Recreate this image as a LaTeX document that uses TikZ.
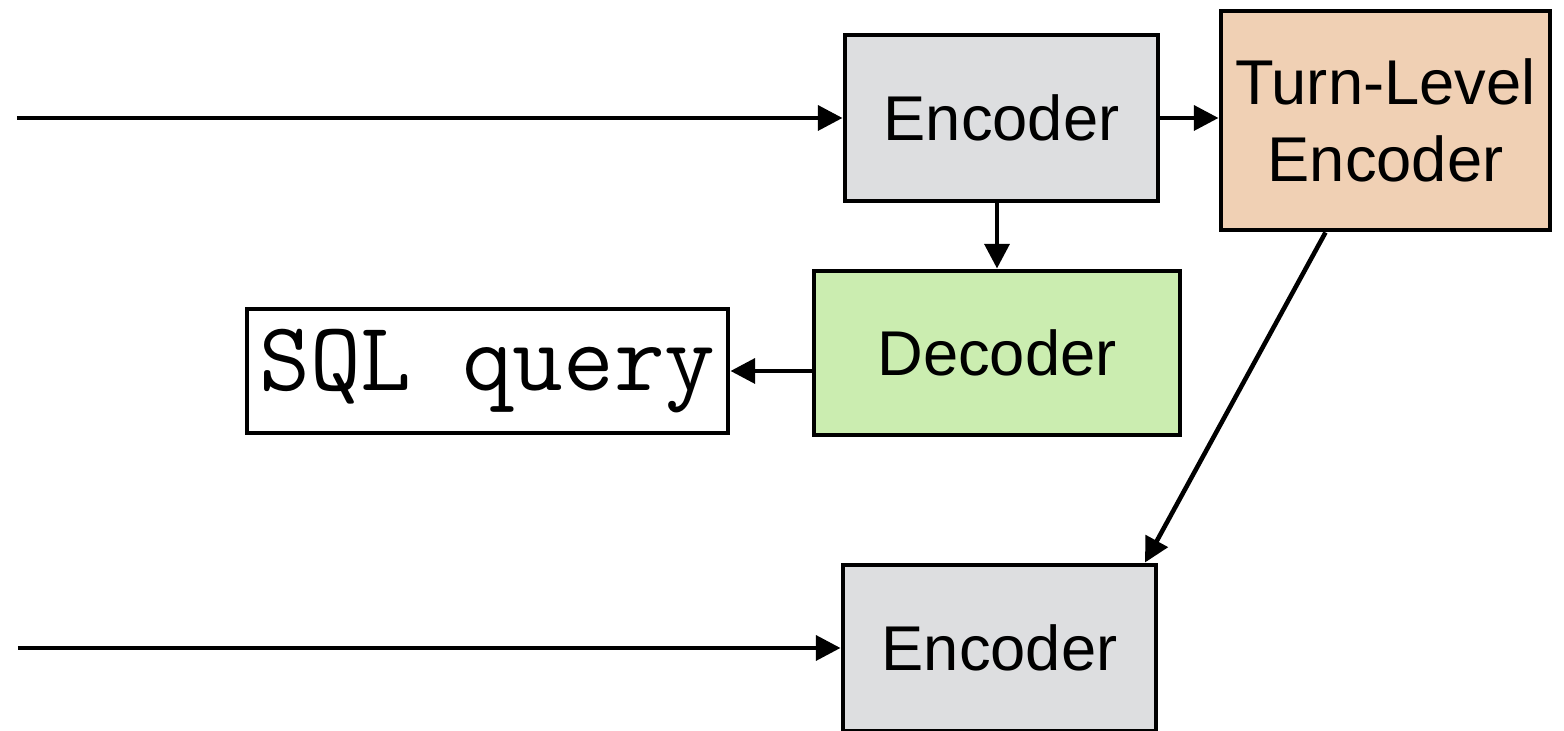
\documentclass[tikz,border=0pt]{standalone}
\usepackage{fontspec}
\setmainfont{Liberation Sans}
\usetikzlibrary{arrows.meta}
\definecolor{encgray}{RGB}{221,222,224}
\definecolor{turnpeach}{RGB}{240,208,180}
\definecolor{decgreen}{RGB}{203,237,176}
\begin{document}
\begin{tikzpicture}[
    caja/.style={draw, line width=1.4pt, inner sep=0pt, font=\fontsize{18}{22}\selectfont, align=center},
    flecha/.style={line width=1.3pt, -{Triangle[length=7pt,width=7pt]}}
  ]
  \useasboundingbox (0,0) rectangle (15.64,7.31);

  % Cajas
  \node[caja, fill=encgray, minimum width=3.13cm, minimum height=1.66cm] (enc1) at (10.015,6.13) {Encoder};
  \node[caja, fill=turnpeach, minimum width=3.29cm, minimum height=2.19cm] (turn) at (13.855,6.105) {Turn-Level\\Encoder};
  \node[caja, fill=decgreen, minimum width=3.66cm, minimum height=1.64cm] (dec) at (9.97,3.78) {Decoder};
  \node[caja, minimum width=4.81cm, minimum height=1.24cm, font=\ttfamily\fontsize{28}{30}\selectfont] (sql) at (4.875,3.60) {SQL query};
  \node[caja, fill=encgray, minimum width=3.13cm, minimum height=1.66cm] (enc2) at (9.995,0.83) {Encoder};

  % Entradas
  \coordinate (in1) at (0.17,6.13);
  \coordinate (in2) at (0.18,0.83);
  \draw[flecha] (in1) -- (enc1);
  \draw[flecha] (in2) -- (enc2);

  % Conexiones
  \draw[flecha] (enc1.east) -- (enc1.east -| turn.west);
  \draw[flecha] (dec.north |- enc1.south) -- (dec.north);
  \draw[flecha] (dec.west |- sql.east) -- (sql.east);
  \draw[flecha] ([xshift=-0.6cm]turn.south) -- ([xshift=1.455cm]enc2.north);
\end{tikzpicture}
\end{document}
